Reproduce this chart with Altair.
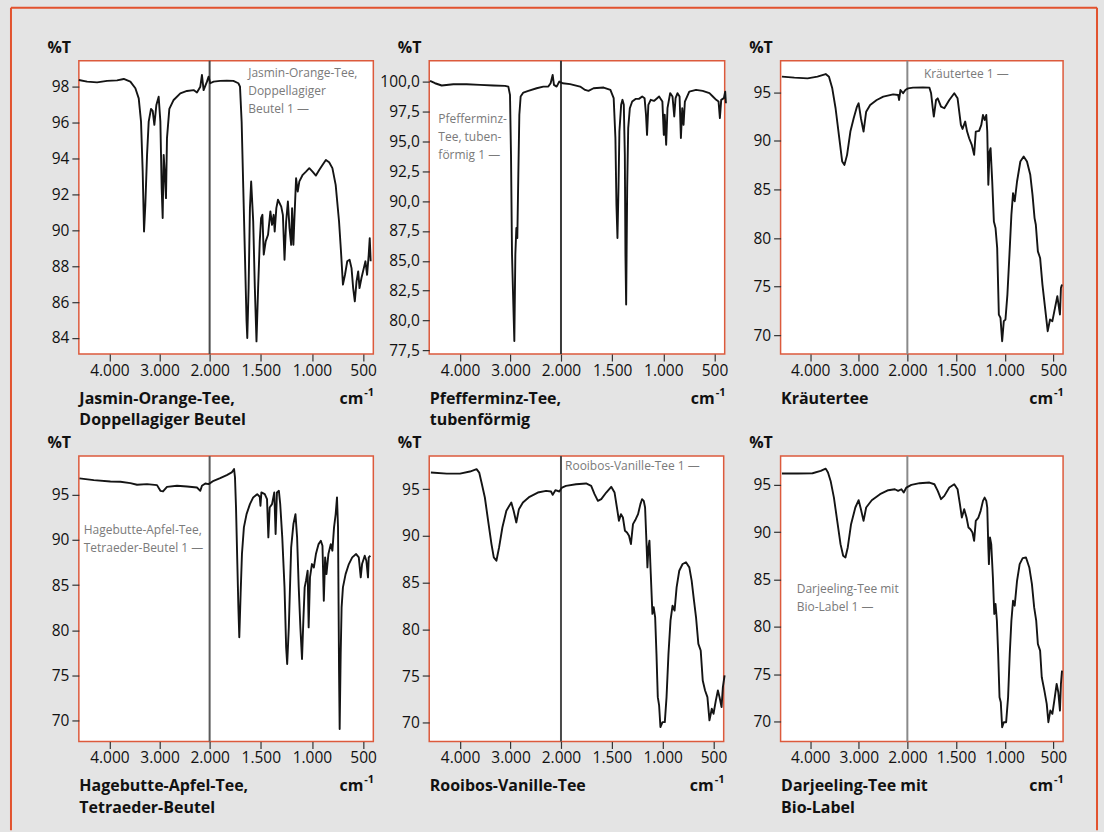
import altair as alt
import pandas as pd

# ---------------- data ----------------
X_TICKS = [4000, 3000, 2000, 1500, 1000, 500]
X_DOMAIN = [4610, 2000, 400]

jasmin_wn = [4611, 4445, 4246, 4047, 3847, 3714, 3582, 3482, 3415, 3369,
             3336, 3309, 3283, 3249, 3216, 3170, 3136, 3103, 3063, 3017,
             2983, 2957, 2937, 2917, 2897, 2871, 2851, 2804, 2718, 2585,
             2452, 2319, 2253, 2186, 2153, 2120, 2053, 2020, 1994, 1961,
             1897, 1832, 1768, 1719, 1703, 1687, 1671, 1655, 1639, 1632,
             1619, 1606, 1594, 1574, 1558, 1542, 1526, 1510, 1497, 1484,
             1471, 1452, 1429, 1406, 1390, 1374, 1364, 1348, 1332, 1300,
             1284, 1268, 1252, 1235, 1219, 1203, 1194, 1181, 1171, 1155,
             1139, 1123, 1090, 1058, 1026, 994, 961, 929, 897, 864,
             832, 800, 768, 735, 716, 697, 677, 655, 632, 613,
             597, 581, 564, 548, 535, 516, 493, 477, 461, 445,
             435, 426]
jasmin_t = [98.37, 98.28, 98.24, 98.32, 98.35, 98.43, 98.28, 97.91, 97.35, 96.05,
            93.27, 89.93, 91.42, 94.20, 96.05, 96.76, 96.65, 95.87, 96.98, 97.44,
            96.05, 92.34, 90.68, 94.20, 93.27, 91.79, 95.13, 96.76, 97.26, 97.63,
            97.76, 97.81, 97.68, 98.0, 98.65, 97.81, 98.28, 98.56, 98.19, 98.28,
            98.32, 98.33, 98.32, 98.19, 98.0, 96.05, 92.34, 88.64, 84.93, 84.0,
            86.78, 91.23, 92.72, 90.49, 86.78, 83.81, 86.78, 89.38, 90.68, 90.86,
            88.64, 89.38, 89.75, 91.05, 90.30, 90.86, 89.93, 91.23, 91.70, 91.32,
            90.86, 88.36, 90.49, 91.60, 90.12, 89.19, 91.23, 89.19, 90.68, 92.90,
            92.16, 92.72, 93.09, 93.27, 93.46, 93.27, 93.05, 93.36, 93.64, 93.92,
            93.79, 93.46, 92.53, 90.49, 88.82, 86.97, 87.52, 88.27, 88.36, 87.89,
            86.78, 86.04, 87.15, 87.71, 86.78, 87.34, 87.89, 88.27, 87.52, 88.64,
            89.56, 88.27]

minz_wn = [4594, 4495, 4363, 4132, 3868, 3604, 3340, 3109, 3043, 3010,
           2990, 2970, 2944, 2924, 2904, 2884, 2865, 2845, 2825, 2799,
           2746, 2647, 2482, 2350, 2251, 2205, 2165, 2139, 2086, 2033,
           1984, 1911, 1813, 1764, 1731, 1682, 1583, 1517, 1485, 1468,
           1458, 1448, 1438, 1429, 1412, 1399, 1386, 1376, 1370, 1363,
           1353, 1343, 1327, 1304, 1271, 1238, 1206, 1183, 1169, 1159,
           1146, 1123, 1091, 1041, 1009, 995, 986, 972, 959, 933,
           910, 893, 880, 861, 841, 828, 815, 802, 789, 746,
           680, 615, 549, 516, 483, 460, 447, 434, 408, 395,
           388]
minz_t = [100.06, 99.86, 99.67, 99.78, 99.78, 99.72, 99.67, 99.64, 99.58, 98.89,
          93.87, 85.52, 81.34, 78.28, 85.52, 87.75, 86.91, 92.20, 97.22, 98.75,
          99.08, 99.22, 99.44, 99.58, 99.58, 99.86, 100.56, 99.72, 99.58, 100.0,
          99.86, 99.78, 99.58, 99.30, 99.22, 99.44, 99.50, 99.30, 98.61, 95.27,
          89.70, 86.91, 91.09, 95.82, 98.05, 98.47, 98.05, 93.87, 85.52, 81.34,
          91.09, 96.10, 97.77, 98.33, 98.55, 98.55, 98.75, 98.61, 97.22, 95.54,
          98.05, 98.47, 98.38, 98.75, 98.33, 95.54, 97.22, 94.71, 97.77, 99.03,
          98.75, 97.08, 98.61, 99.03, 98.75, 95.27, 97.77, 96.38, 98.33, 99.16,
          99.30, 99.22, 99.03, 98.75, 98.47, 98.33, 96.94, 98.47, 98.61, 99.16,
          98.19]

kraut_wn = [4583, 4326, 4054, 3851, 3681, 3614, 3546, 3478, 3410, 3342,
            3295, 3241, 3173, 3105, 3037, 3003, 2956, 2902, 2848, 2766,
            2631, 2495, 2292, 2190, 2170, 2142, 2088, 2041, 1993, 1942,
            1840, 1773, 1756, 1739, 1728, 1705, 1688, 1654, 1620, 1569,
            1518, 1484, 1467, 1450, 1433, 1406, 1386, 1365, 1338, 1314,
            1297, 1263, 1240, 1223, 1206, 1189, 1179, 1168, 1155, 1145,
            1128, 1111, 1094, 1077, 1060, 1043, 1026, 1009, 992, 972,
            951, 931, 914, 897, 873, 839, 805, 771, 737, 714,
            693, 680, 659, 636, 612, 585, 558, 534, 510, 483,
            459, 442, 432, 422, 411]
kraut_t = [96.61, 96.51, 96.44, 96.61, 96.88, 96.61, 95.41, 93.36, 90.62, 87.88,
           87.53, 88.56, 90.96, 92.33, 93.53, 93.87, 92.33, 90.96, 93.01, 93.70,
           94.21, 94.55, 94.79, 94.73, 94.21, 95.24, 94.90, 95.24, 95.41, 95.48,
           95.51, 95.48, 94.90, 93.36, 92.50, 94.21, 94.38, 93.53, 93.36, 94.21,
           94.90, 94.38, 93.01, 91.64, 91.23, 91.99, 90.96, 90.27, 89.59, 88.56,
           90.96, 91.03, 91.64, 92.67, 92.16, 92.67, 90.96, 85.48, 88.90, 89.25,
           85.82, 81.71, 81.03, 78.97, 72.12, 71.78, 69.38, 71.44, 71.61, 74.18,
           78.29, 82.40, 84.62, 83.77, 85.82, 87.88, 88.39, 87.88, 86.51, 84.45,
           82.05, 81.37, 78.63, 77.95, 75.21, 72.81, 70.41, 71.61, 71.44, 72.81,
           74.01, 72.81, 72.12, 74.86, 75.21]

hage_wn = [4598, 4312, 3980, 3781, 3582, 3449, 3249, 3050, 2983, 2930,
           2851, 2651, 2452, 2253, 2186, 2153, 2086, 2020, 1961, 1897,
           1832, 1784, 1761, 1752, 1742, 1729, 1719, 1710, 1697, 1684,
           1665, 1639, 1606, 1574, 1535, 1510, 1503, 1494, 1461, 1439,
           1426, 1413, 1390, 1368, 1355, 1342, 1323, 1310, 1290, 1268,
           1252, 1242, 1226, 1203, 1181, 1161, 1145, 1129, 1113, 1097,
           1084, 1071, 1058, 1042, 1032, 1019, 1000, 981, 961, 935,
           913, 897, 884, 871, 858, 839, 816, 800, 784, 768,
           755, 745, 735, 729, 719, 710, 697, 671, 639, 606,
           568, 542, 523, 510, 484, 468, 452, 445, 429]
hage_t = [96.81, 96.62, 96.47, 96.44, 96.29, 96.11, 96.18, 96.07, 95.44, 95.37,
          95.88, 96.0, 95.92, 95.81, 95.44, 96.0, 96.25, 96.18, 96.55, 96.84,
          97.18, 97.47, 97.84, 96.92, 93.60, 87.33, 82.54, 79.22, 84.02, 88.44,
          91.39, 92.86, 93.97, 94.71, 95.07, 94.78, 93.78, 95.26, 95.07, 94.52,
          90.28, 93.60, 93.97, 95.26, 90.65, 95.26, 95.44, 93.97, 90.28, 84.75,
          78.11, 76.27, 80.32, 89.17, 91.76, 92.86, 90.28, 84.75, 80.32, 76.82,
          81.06, 84.75, 85.49, 86.59, 80.32, 85.86, 87.33, 86.96, 88.44, 89.54,
          89.91, 89.36, 83.27, 88.07, 86.22, 88.44, 89.54, 88.81, 91.39, 92.86,
          94.71, 91.39, 75.53, 69.08, 77.37, 82.54, 84.75, 86.22, 87.33, 88.07,
          88.44, 88.07, 85.86, 87.33, 88.25, 87.70, 85.86, 88.07, 88.25]

rooi_wn = [4577, 4262, 4000, 3803, 3672, 3620, 3574, 3508, 3443, 3377,
           3331, 3279, 3226, 3161, 3082, 2984, 2938, 2885, 2833, 2754,
           2623, 2459, 2295, 2197, 2164, 2111, 2033, 1990, 1951, 1852,
           1753, 1703, 1670, 1637, 1604, 1555, 1506, 1473, 1450, 1430,
           1410, 1391, 1371, 1351, 1331, 1312, 1292, 1265, 1242, 1219,
           1203, 1186, 1173, 1160, 1150, 1140, 1130, 1117, 1101, 1088,
           1074, 1061, 1048, 1035, 1022, 1002, 979, 962, 943, 923,
           903, 883, 863, 837, 804, 771, 738, 715, 692, 672,
           649, 626, 606, 583, 560, 540, 517, 500, 477, 457,
           441, 421, 408, 391]
rooi_t = [96.78, 96.67, 96.67, 96.89, 97.14, 96.78, 95.71, 94.11, 91.62, 89.12,
          87.70, 87.34, 88.77, 90.90, 92.69, 93.58, 92.69, 91.44, 92.86, 93.58,
          94.18, 94.64, 94.82, 94.75, 94.39, 94.89, 94.75, 95.18, 95.36, 95.53,
          95.61, 95.36, 94.47, 93.75, 93.93, 94.64, 95.25, 94.64, 93.04, 91.62,
          92.33, 91.97, 90.55, 90.37, 90.01, 89.12, 91.26, 91.79, 92.33, 93.40,
          93.93, 93.75, 93.04, 89.48, 86.63, 88.77, 89.48, 85.92, 81.65, 82.36,
          81.29, 77.37, 72.74, 71.85, 69.54, 70.07, 70.07, 72.74, 77.37, 80.93,
          82.54, 82.0, 84.49, 86.27, 86.99, 87.17, 86.63, 85.21, 83.07, 81.29,
          78.44, 77.73, 74.52, 73.45, 72.74, 70.25, 71.50, 70.96, 72.39, 73.45,
          72.74, 71.67, 73.81, 75.06]

darj_wn = [4583, 4258, 3953, 3783, 3681, 3634, 3580, 3512, 3444, 3376,
           3322, 3275, 3227, 3159, 3071, 3003, 2956, 2902, 2848, 2733,
           2563, 2393, 2258, 2190, 2122, 2075, 2020, 1959, 1874, 1773,
           1722, 1688, 1654, 1620, 1569, 1518, 1484, 1460, 1440, 1416,
           1392, 1372, 1352, 1331, 1314, 1297, 1270, 1247, 1223, 1206,
           1189, 1179, 1168, 1162, 1151, 1138, 1121, 1107, 1094, 1080,
           1067, 1053, 1040, 1026, 1009, 985, 965, 948, 931, 914,
           897, 873, 846, 815, 781, 747, 720, 697, 676, 659,
           636, 619, 592, 568, 551, 531, 510, 490, 466, 449,
           432, 422, 411]
darj_t = [96.20, 96.20, 96.23, 96.48, 96.72, 96.30, 95.42, 93.66, 91.20, 88.74,
          87.51, 87.33, 88.39, 90.85, 92.61, 93.38, 92.43, 91.20, 92.61, 93.38,
          94.02, 94.44, 94.54, 94.37, 94.54, 94.19, 94.72, 95.0, 95.18, 95.25,
          95.07, 94.37, 93.49, 93.84, 94.72, 95.07, 94.54, 92.96, 91.55, 92.43,
          91.55, 90.50, 90.32, 89.97, 89.09, 91.20, 91.55, 92.26, 93.31, 93.66,
          93.31, 92.61, 88.39, 86.63, 89.44, 88.74, 85.22, 81.36, 82.41, 80.65,
          77.14, 72.57, 72.04, 69.40, 69.93, 69.93, 72.57, 77.14, 80.65, 82.76,
          82.24, 84.87, 86.63, 87.26, 87.33, 86.28, 84.52, 82.06, 80.65, 78.19,
          77.49, 74.68, 73.27, 71.86, 69.93, 71.16, 70.81, 72.22, 73.97, 73.09,
          71.16, 73.97, 75.38]

titles = [["Jasmin-Orange-Tee,", "Doppellagiger Beutel"],
          ["Pfefferminz-Tee,", "tubenförmig"],
          "Kräutertee",
          ["Hagebutte-Apfel-Tee,", "Tetraeder-Beutel"],
          "Rooibos-Vanille-Tee",
          ["Darjeeling-Tee mit", "Bio-Label"]]
notes = ["Jasmin-Orange-Tee,\nDoppellagiger\nBeutel 1 —",
         "Pfefferminz-\nTee, tuben-\nförmig 1 —",
         "Kräutertee 1 —",
         "Hagebutte-Apfel-Tee,\nTetraeder-Beutel 1 —",
         "Rooibos-Vanille-Tee 1 —",
         "Darjeeling-Tee mit\nBio-Label 1 —"]
note_wn = [1623, 4429, 1830, 4512, 1960, 4278]
note_t = [98.93, 97.13, 97.23, 91.46, 97.85, 84.35]
y_domains = [[83.1, 99.45], [77.19, 101.75], [68.05, 98.26],
             [67.7, 99.3], [68.0, 98.56], [67.9, 98.06]]
y_ticks = [[84, 86, 88, 90, 92, 94, 96, 98],
           [77.5, 80, 82.5, 85, 87.5, 90, 92.5, 95, 97.5, 100],
           [70, 75, 80, 85, 90, 95],
           [70, 75, 80, 85, 90, 95],
           [70, 75, 80, 85, 90, 95],
           [70, 75, 80, 85, 90, 95]]

# ---------------- styling ----------------
FONT = "Open Sans"
BG = "#e4e4e4"
RED = "#dc5a3c"
FRAME = "#e2522e"
widths = [295, 296, 283, 295, 295, 283]
heights = [294, 294, 294, 286, 286, 286]
x2000 = [131, 132, 127, 131, 132, 127]
rule_colors = ["#4a4a4a", "#3a3a3a", "#8a8a8a", "#5a5a5a", "#4a4a4a", "#8a8a8a"]
XLABEL = "replace(format(datum.value, ','), ',', '.')"
YLABEL_INT = "format(datum.value, 'd')"
YLABEL_DEC = "replace(format(datum.value, '.1f'), '.', ',')"


def make_panel(i, wn, t, frame=False):
    w, h = widths[i], heights[i]
    data = pd.DataFrame({"wn": wn, "t": t})
    xs = alt.Scale(domain=X_DOMAIN, range=[0, x2000[i], w], nice=False, zero=False)
    ys = alt.Scale(domain=y_domains[i], nice=False, zero=False)
    xa = alt.Axis(values=X_TICKS, labelExpr=XLABEL, title=titles[i],
                  titleX=0, titleY=49, titleAlign="left", titleAnchor="start",
                  titleBaseline="alphabetic", titleAngle=0, titleLineHeight=22,
                  labelPadding=2, tickSize=7, labelFlush=False, labelOverlap=False)
    ya = alt.Axis(values=y_ticks[i], labelExpr=YLABEL_DEC if i == 1 else YLABEL_INT,
                  title="%T", titleX=-32, titleY=-8, titleAngle=0,
                  titleAlign="left", titleBaseline="alphabetic",
                  tickSize=7, labelPadding=3, labelFlush=False, labelOverlap=False)
    X = alt.X("wn:Q", scale=xs, axis=xa)
    Y = alt.Y("t:Q", scale=ys, axis=ya)

    rule = alt.Chart(pd.DataFrame({"wn": [2000]})).mark_rule(
        color=rule_colors[i], strokeWidth=2).encode(x=X)
    line = alt.Chart(data).mark_line(
        color="#141414", strokeWidth=1.9, strokeJoin="round").encode(x=X, y=Y)
    note = alt.Chart(pd.DataFrame({"wn": [note_wn[i]], "t": [note_t[i]],
                                   "label": [notes[i]]})).mark_text(
        align="left", baseline="top", lineBreak="\n", lineHeight=18,
        fontSize=12, color="#7a7a7a", font=FONT, dy=-2).encode(x=X, y=Y, text="label:N")
    cm = alt.Chart(pd.DataFrame({"u": ["cm"]})).mark_text(
        align="right", baseline="alphabetic", fontSize=16, fontWeight="bold",
        font=FONT, color="#111").encode(
        text="u:N", x=alt.value(w - 10), y=alt.value(h + 50))
    sup = alt.Chart(pd.DataFrame({"u": ["-1"]})).mark_text(
        align="left", baseline="alphabetic", fontSize=11, fontWeight="bold",
        font=FONT, color="#111").encode(
        text="u:N", x=alt.value(w - 9), y=alt.value(h + 42))
    layers = [rule, line, note, cm, sup]
    if frame:
        fdf = pd.DataFrame({"k": [0]})
        left = alt.Chart(fdf).mark_rule(color=FRAME, strokeWidth=2).encode(
            x=alt.value(-68), y=alt.value(-53), y2=alt.value(771))
        top = alt.Chart(fdf).mark_rule(color=FRAME, strokeWidth=2).encode(
            x=alt.value(-68), x2=alt.value(1020), y=alt.value(-53))
        right = alt.Chart(fdf).mark_rule(color=FRAME, strokeWidth=2).encode(
            x=alt.value(1020), y=alt.value(-53), y2=alt.value(771))
        layers += [left, top, right]
    return alt.layer(*layers).properties(width=w, height=h)


panels = [
    make_panel(0, jasmin_wn, jasmin_t, frame=True),
    make_panel(1, minz_wn, minz_t),
    make_panel(2, kraut_wn, kraut_t),
    make_panel(3, hage_wn, hage_t),
    make_panel(4, rooi_wn, rooi_t),
    make_panel(5, darj_wn, darj_t),
]

chart = alt.concat(
    *panels, columns=3, spacing={"row": 102, "column": 56},
    bounds="flush", align="each"
).properties(
    padding={"left": 9, "top": 5, "right": 5, "bottom": 0},
    background=BG,
).configure_view(
    stroke=RED, strokeWidth=1.5, fill="white"
).configure_axis(
    domain=False, grid=False, tickColor="#333333", tickWidth=1.2,
    labelFont=FONT, labelFontSize=15.5, labelColor="#111111",
    titleFont=FONT, titleFontSize=16, titleFontWeight="bold", titleColor="#111111",
)

chart.save("out.html", embed_options={"renderer": "svg", "actions": False})
